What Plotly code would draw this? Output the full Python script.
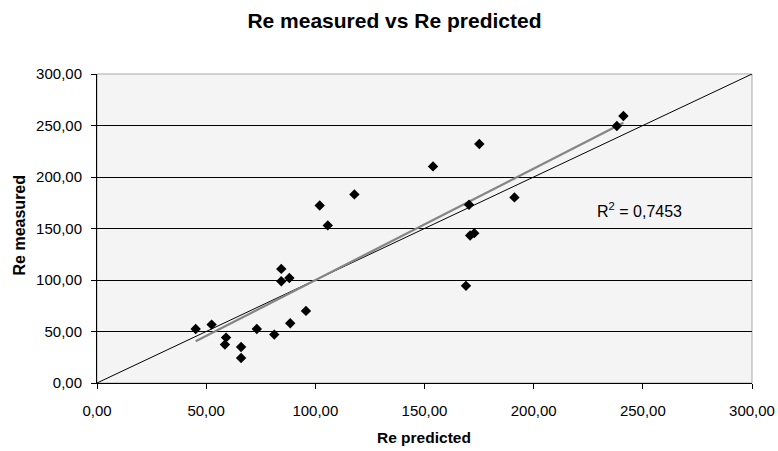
import numpy as np
import plotly.graph_objects as go

# Data
re_predicted = [45.2, 52.5, 59.1, 58.6, 66.0, 66.0, 73.2, 81.2, 84.4, 84.4, 88.1, 88.5,
                95.7, 102.0, 105.7, 117.9, 153.9, 175.1, 170.4, 191.2, 170.9, 172.8,
                169.0, 238.1, 241.1]
re_measured = [52.5, 56.7, 44.1, 37.3, 35.0, 24.3, 52.5, 47.0, 110.8, 98.8, 102.0, 58.0,
               70.0, 172.4, 153.0, 183.1, 210.3, 232.0, 173.0, 180.2, 143.2, 145.5,
               94.3, 249.5, 259.2]
tick_values = [0, 50, 100, 150, 200, 250, 300]
identity_line = [0, 300]
r2_label = "R<sup>2</sup> = 0,7453"

xa = np.array(re_predicted)
ya = np.array(re_measured)
slope, intercept = np.polyfit(xa, ya, 1)
trend_x = [xa.min(), xa.max()]
trend_y = [slope * v + intercept for v in trend_x]

FONT = "Liberation Sans, Arial, sans-serif"

fig = go.Figure()
fig.add_trace(go.Scatter(x=identity_line, y=identity_line, mode="lines",
                         line=dict(color="black", width=1), hoverinfo="skip"))
fig.add_trace(go.Scatter(x=trend_x, y=trend_y, mode="lines",
                         line=dict(color="#858585", width=2.2), hoverinfo="skip"))
fig.add_trace(go.Scatter(x=re_predicted, y=re_measured, mode="markers",
                         marker=dict(symbol="diamond", size=8, color="black")))

axis_common = dict(range=[0, 300], tickvals=tick_values, tickformat=".2f",
                   showline=True, linecolor="black", linewidth=1,
                   ticks="outside", ticklen=5, tickcolor="black",
                   tickfont=dict(family=FONT, size=15, color="black"),
                   zeroline=False, fixedrange=True, automargin=False)

fig.update_xaxes(**axis_common, showgrid=False, ticklabelstandoff=9)
fig.update_yaxes(**axis_common, showgrid=True, gridcolor="black", gridwidth=1,
                 ticklabelstandoff=6)

fig.add_shape(type="rect", xref="paper", yref="paper", x0=0, y0=0, x1=1, y1=1,
              line=dict(color="#a8a8a8", width=1), layer="below")

fig.add_annotation(x=228.1, y=167.5, text=r2_label, showarrow=False,
                   xanchor="left", yanchor="middle",
                   font=dict(family=FONT, size=16, color="black"))
fig.add_annotation(xref="paper", yref="paper", x=0.499, y=-0.175,
                   text="<b>Re predicted</b>", showarrow=False,
                   xanchor="center", yanchor="middle",
                   font=dict(family=FONT, size=15.5, color="black"))
fig.add_annotation(xref="paper", yref="paper", x=-0.119, y=0.51,
                   text="<b>Re measured</b>", showarrow=False, textangle=-90,
                   xanchor="center", yanchor="middle",
                   font=dict(family=FONT, size=16, color="black"))

fig.update_layout(
    width=778, height=451,
    margin=dict(l=97, r=26, t=74, b=68),
    paper_bgcolor="white", plot_bgcolor="#f4f4f4",
    separators=", ",
    showlegend=False,
    title=dict(text="<b>Re measured vs Re predicted</b>", xref="container",
               x=0.507, y=1 - 21 / 451, xanchor="center", yanchor="middle",
               font=dict(family=FONT, size=21, color="black")),
)

fig.write_html("out.html", config={"displayModeBar": False},
               post_script="document.body.style.margin='0';document.body.style.overflow='hidden';")
